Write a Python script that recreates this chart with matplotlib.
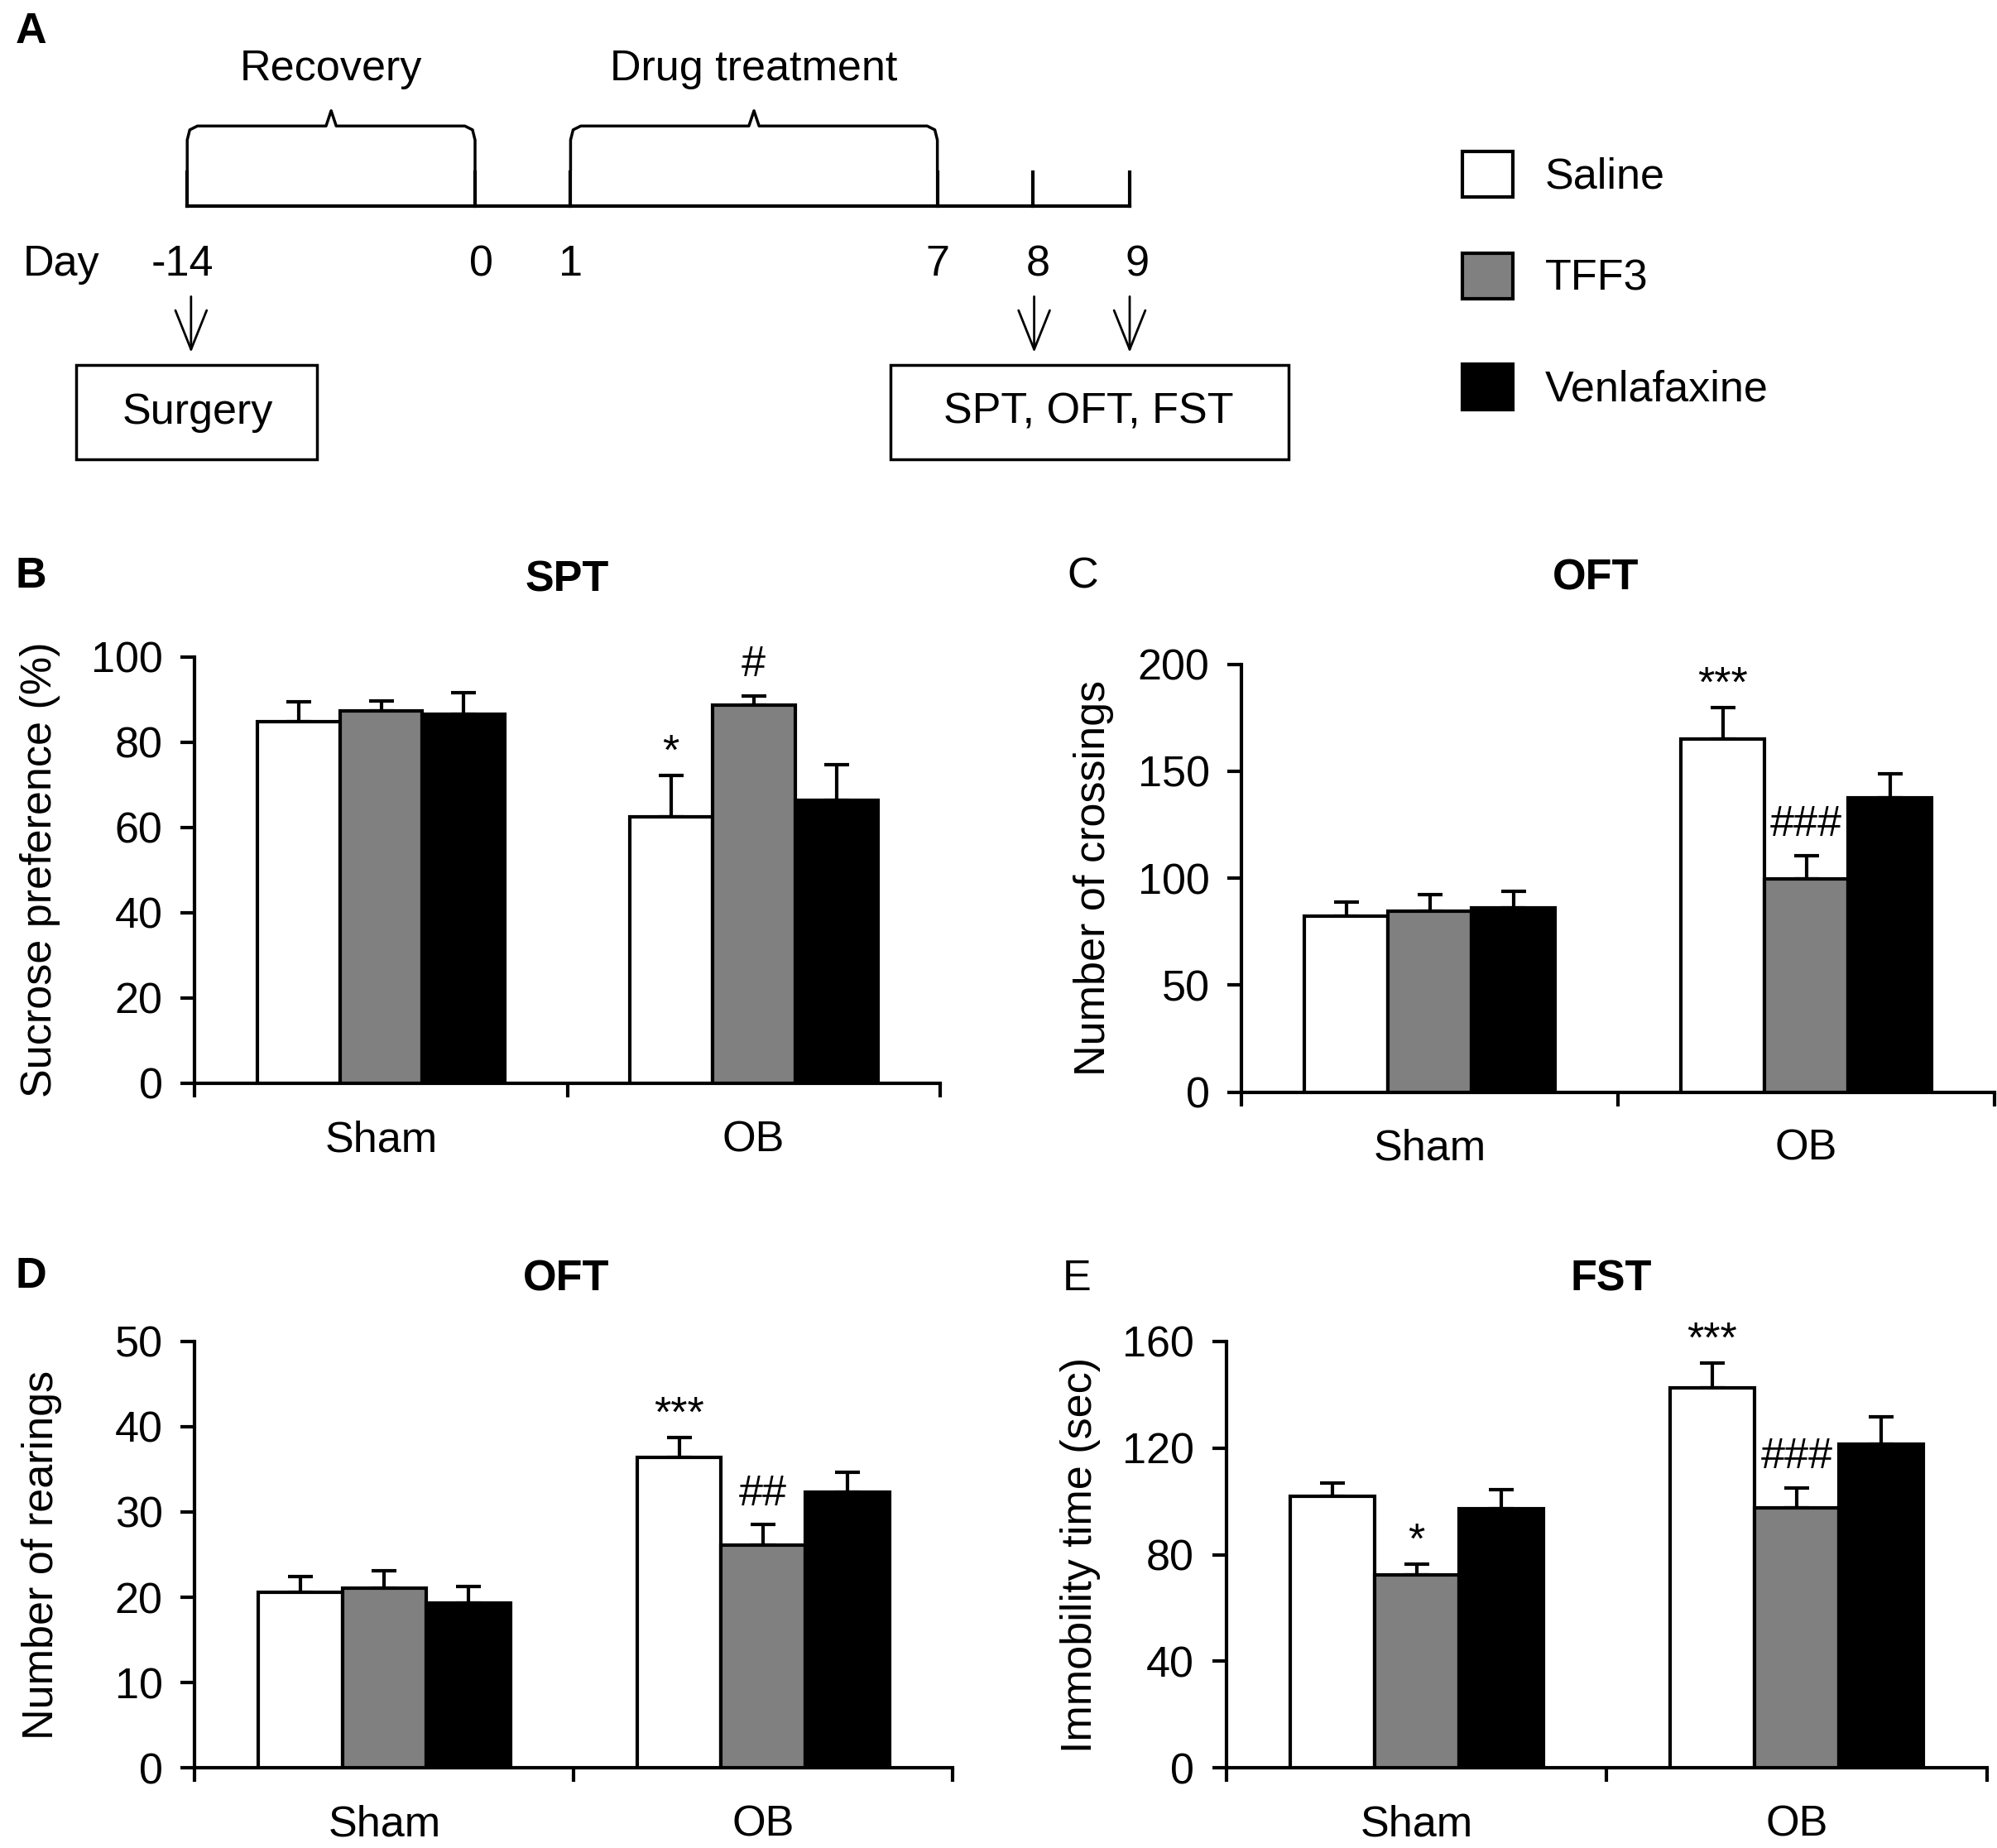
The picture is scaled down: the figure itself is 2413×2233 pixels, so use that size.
import numpy as np
import matplotlib.pyplot as plt
from matplotlib.patches import Rectangle

plt.rcParams['font.family'] = ['Liberation Sans', 'DejaVu Sans']

# data
groups = ['Sham', 'OB']
treatments = ['Saline', 'TFF3', 'Venlafaxine']
colors = ['white', '#808080', 'black']

spt_mean = [[84.7, 87.3, 86.5], [62.4, 88.7, 66.3]]
spt_err = [[4.8, 2.3, 5.0], [9.7, 2.1, 8.4]]
spt_marks = [(1, 0, '*'), (1, 1, '#')]

cross_mean = [[82.4, 84.4, 86.1], [165.0, 99.5, 137.7]]
cross_err = [[6.6, 7.8, 7.9], [14.7, 11.1, 11.2]]
cross_marks = [(1, 0, '***'), (1, 1, '###')]

rear_mean = [[20.6, 21.1, 19.3], [36.4, 26.1, 32.3]]
rear_err = [[1.8, 2.0, 2.0], [2.3, 2.4, 2.4]]
rear_marks = [(1, 0, '***'), (1, 1, '##')]

immob_mean = [[101.8, 72.5, 97.2], [142.7, 97.7, 121.5]]
immob_err = [[5.2, 3.8, 7.2], [9.1, 7.4, 10.2]]
immob_marks = [(0, 1, '*'), (1, 0, '***'), (1, 1, '###')]

day_labels = ['-14', '0', '1', '7', '8', '9']

FS = 37.5
W, H = 1568, 1452  # layout grid of the reference

fig = plt.figure(figsize=(24.13, 22.33), dpi=100)


def rect(left, top, right, bottom):
    return [left / W, 1 - bottom / H, (right - left) / W, (bottom - top) / H]


# panel A: timeline drawn on a full-figure axes in layout units
ax_a = fig.add_axes([0, 0, 1, 1])
ax_a.set_xlim(0, W)
ax_a.set_ylim(H, 0)
ax_a.axis('off')

day_x = [147, 373, 448, 736, 811, 887]
ax_a.plot([day_x[0], day_x[-1]], [162, 162], color='black', lw=3)
for x in day_x:
    ax_a.plot([x, x], [135, 162], color='black', lw=3)
ax_a.text(18, 208, 'Day', fontsize=FS, va='center', ha='left')
for x, lab, dx in zip(day_x, day_labels, [-4, 5, 0, 0, 4, 6]):
    ax_a.text(x + dx, 208, lab, fontsize=FS, va='center', ha='center')


def brace(x0, x1, label):
    mid = (x0 + x1) / 2
    xs = [x0, x0, x0 + 2, x0 + 8, mid - 4, mid, mid + 4, x1 - 8, x1 - 2, x1, x1]
    ys = [133, 110, 102, 99, 99, 87, 99, 99, 102, 110, 133]
    ax_a.plot(xs, ys, color='black', lw=2.5)
    ax_a.text(mid, 54, label, fontsize=FS, ha='center', va='center')


brace(day_x[0], day_x[1], 'Recovery')
brace(day_x[2], day_x[3], 'Drug treatment')

for x in [day_x[0] + 3, day_x[4] + 1, day_x[5]]:
    ax_a.annotate('', xy=(x, 277), xytext=(x, 233),
                  arrowprops=dict(arrowstyle='->,head_length=1.0,head_width=0.4',
                                  lw=2, color='black', mutation_scale=34,
                                  shrinkA=0, shrinkB=0))

ax_a.add_patch(Rectangle((60, 287), 189, 74, fill=False, ec='black', lw=2.5))
ax_a.text(155, 324, 'Surgery', fontsize=FS, ha='center', va='center')
ax_a.add_patch(Rectangle((699, 287), 313, 74, fill=False, ec='black', lw=2.5))
ax_a.text(855, 324, 'SPT, OFT, FST', fontsize=FS, ha='center', va='center')

# legend
for i, (t, c) in enumerate(zip(treatments, colors)):
    yc = [137, 217, 304][i]
    ax_a.add_patch(Rectangle((1148, yc - 18), 40, 36, fc=c, ec='black', lw=3))
    ax_a.text(1213, yc + 2, t, fontsize=FS, ha='left', va='center')

# panel letters
ax_a.text(12, 25, 'A', fontsize=FS, fontweight='bold', va='center')
ax_a.text(12, 453, 'B', fontsize=FS, fontweight='bold', va='center')
ax_a.text(838, 453, 'C', fontsize=FS, va='center')
ax_a.text(12, 1003, 'D', fontsize=FS, fontweight='bold', va='center')
ax_a.text(834, 1005, 'E', fontsize=FS, va='center')


def bar_panel(pos, means, errs, marks, ymax, ystep, ylabel, title, tx, ty, lx):
    ax = fig.add_axes(rect(*pos))
    means = np.array(means)
    errs = np.array(errs)
    x = np.arange(len(groups))
    w = 0.222
    for i, c in enumerate(colors):
        xi = x + (i - 1) * w
        ax.bar(xi, means[:, i], w, color=c, edgecolor='black', lw=3, zorder=3)
        ax.errorbar(xi, means[:, i], yerr=[np.zeros(len(x)), errs[:, i]],
                    fmt='none', ecolor='black', elinewidth=3, capsize=11,
                    capthick=3, zorder=2)
    for g, t, s in marks:
        top = means[g, t] + errs[g, t]
        pad = 9 if s.startswith('#') else 2
        ax.annotate(s, (g + (t - 1) * w, top), xytext=(0, pad),
                    textcoords='offset points', ha='center', va='bottom',
                    fontsize=FS, annotation_clip=False)
    ax.set_xlim(-0.5, 1.5)
    ax.set_ylim(0, ymax)
    ax.set_yticks(np.arange(0, ymax + 1, ystep))
    ax.set_xticks([-0.5, 0.5, 1.5])
    ax.set_xticklabels([])
    ax.set_xticks([0, 1], minor=True)
    ax.set_xticklabels(groups, minor=True)
    ax.tick_params(axis='x', which='major', direction='out', length=12, width=3)
    ax.tick_params(axis='x', which='minor', length=0, pad=32, labelsize=FS)
    ax.tick_params(axis='y', direction='out', length=12, width=3, pad=16,
                   labelsize=FS)
    for side in ['top', 'right']:
        ax.spines[side].set_visible(False)
    for side in ['left', 'bottom']:
        ax.spines[side].set_linewidth(3)
    ax.set_ylabel(ylabel, fontsize=FS)
    ax.yaxis.set_label_coords(lx, 0.5)
    ax.text(tx, ty, title, transform=ax.transAxes, fontsize=FS,
            fontweight='bold', ha='center', va='center')
    return ax


bar_panel((153, 516, 738, 851), spt_mean, spt_err, spt_marks, 100, 20,
          'Sucrose preference (%)', 'SPT', 0.5, 1.18, -0.18)
bar_panel((975, 522, 1566, 858), cross_mean, cross_err, cross_marks, 200, 50,
          'Number of crossings', 'OFT', 0.47, 1.2, -0.17)
bar_panel((153, 1054, 748, 1389), rear_mean, rear_err, rear_marks, 50, 10,
          'Number of rearings', 'OFT', 0.49, 1.146, -0.175)
bar_panel((963, 1054, 1560, 1389), immob_mean, immob_err, immob_marks, 160, 40,
          'Immobility time (sec)', 'FST', 0.506, 1.146, -0.165)

fig.savefig('out.png', dpi=100)
